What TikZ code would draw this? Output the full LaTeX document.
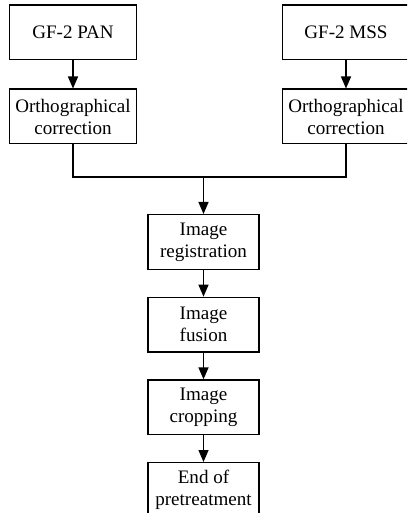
\documentclass[tikz,border=0pt]{standalone}
\usepackage{fontspec}
\setmainfont{Liberation Serif}
\usepackage{tikz}
\usetikzlibrary{positioning,arrows.meta}

\begin{document}
\begin{tikzpicture}[x=0.75pt, y=-0.75pt, node distance=20pt,
  every node/.style={font=\fontsize{14.3}{16.5}\selectfont},
  box/.style={draw, line width=1pt, align=center, minimum width=95pt, minimum height=41pt, inner sep=2pt},
  midbox/.style={box, minimum width=83.25pt},
  flow/.style={-{Triangle[length=9pt, width=7.5pt]}, line width=1pt}]
\useasboundingbox (0,0) rectangle (407,513);
\clip (0,0) rectangle (407,513);
% two inputs
\node[box] (pan) at (73,32.5) {GF-2 PAN};
\node[box] (mss) at (346,32.5) {GF-2 MSS};
\node[box, below=21pt of pan] (orthoL) {Orthographical\\correction};
\node[box, below=21pt of mss] (orthoR) {Orthographical\\correction};
% main chain
\node[midbox] (reg) at (203.5,242) {Image\\registration};
\node[midbox, below=of reg] (fusion) {Image\\fusion};
\node[midbox, below=of fusion] (crop) {Image\\cropping};
\node[midbox, below=of crop] (end) {End of\\pretreatment};
\coordinate (merge) at (reg.north |- 0,177);
\draw[flow] (pan) -- (orthoL);
\draw[flow] (mss) -- (orthoR);
\draw[line width=1pt] (orthoL.south) |- (merge) -| (orthoR.south);
\draw[flow] (merge) -- (reg);
\draw[flow] (reg) -- (fusion);
\draw[flow] (fusion) -- (crop);
\draw[flow] (crop) -- (end);
\end{tikzpicture}
\end{document}
